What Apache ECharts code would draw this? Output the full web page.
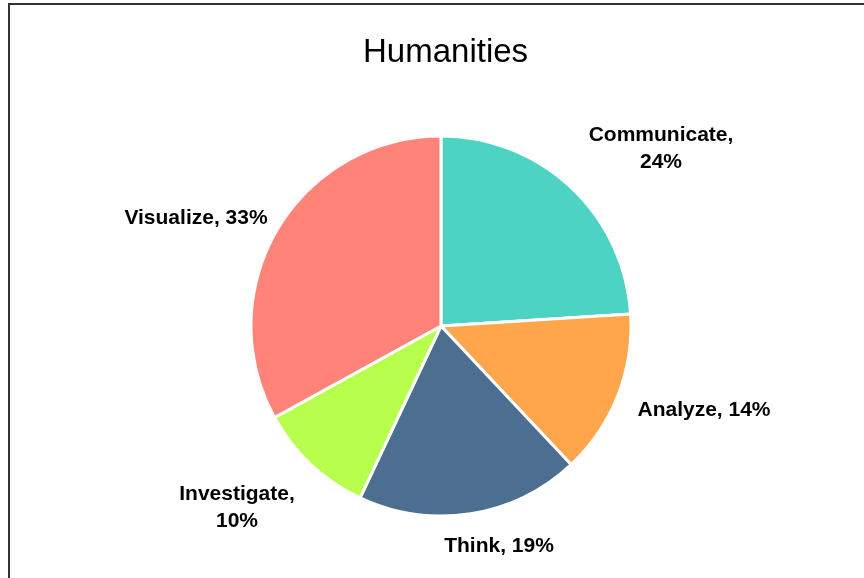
<!DOCTYPE html>
<html>
<head>
<meta charset="utf-8">
<script src="https://cdn.jsdelivr.net/npm/echarts@6/dist/echarts.min.js"></script>
<style>
html,body{margin:0;padding:0;background:#fff;}
#chart{width:864px;height:578px;}
</style>
</head>
<body>
<div id="chart"></div>
<script>
const categories = ['Communicate', 'Analyze', 'Think', 'Investigate', 'Visualize'];
const values = [24, 14, 19, 10, 33];
const labelTexts = ['Communicate,\n24%', 'Analyze, 14%', 'Think, 19%', 'Investigate,\n10%', 'Visualize, 33%'];
const colors = ['#4DD3C4', '#FFA64D', '#4C6E91', '#B8FF4D', '#FF8378'];

// label offsets from pie centre (layout only)
const labelOffsets = [[220, -177], [263, 84], [58, 220], [-204, 182], [-245, -108]];
const center = [441, 326];

const chart = echarts.init(document.getElementById('chart'));
chart.setOption({
  backgroundColor: '#fff',
  animation: false,
  title: {
    text: 'Humanities',
    left: 358,
    top: 31,
    textStyle: { fontFamily: 'Liberation Sans', fontSize: 33, fontWeight: 'normal', color: '#000' }
  },
  graphic: [{
    type: 'rect',
    shape: { x: 9, y: 4, width: 900, height: 620 },
    style: { fill: 'none', stroke: '#333', lineWidth: 2 },
    silent: true
  }],
  series: [{
    type: 'pie',
    center: center,
    radius: 190,
    startAngle: 90,
    clockwise: true,
    data: categories.map((c, i) => ({ name: c, value: values[i], itemStyle: { color: colors[i] } })),
    itemStyle: { borderColor: '#fff', borderWidth: 3 },
    label: {
      show: true,
      position: 'outside',
      formatter: p => labelTexts[p.dataIndex],
      fontFamily: 'Liberation Sans',
      fontWeight: 'bold',
      fontSize: 21,
      lineHeight: 27,
      color: '#000',
      align: 'center'
    },
    labelLine: { show: false },
    labelLayout: function (p) {
      const o = labelOffsets[p.dataIndex];
      return { x: center[0] + o[0], y: center[1] + o[1], align: 'center', verticalAlign: 'middle' };
    }
  }]
});
</script>
</body>
</html>
